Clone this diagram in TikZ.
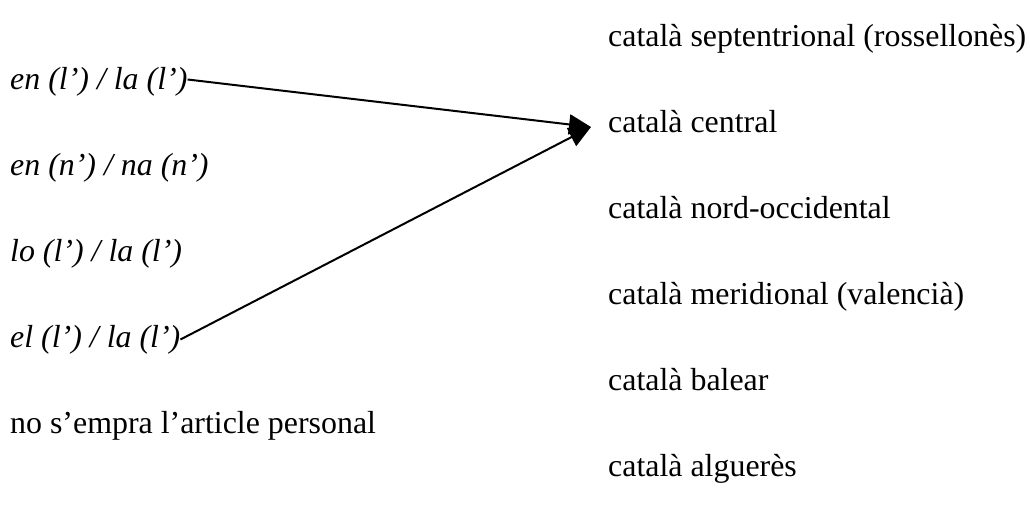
\documentclass[tikz,border=0pt]{standalone}
\usepackage{fontspec}
\setmainfont{Liberation Serif}
\usetikzlibrary{arrows.meta}
\begin{document}
\begin{tikzpicture}[x=1pt, y=-1pt,
  lbl/.style={anchor=base west, inner sep=0pt, font=\fontsize{31.9}{38}\selectfont},
  form/.style={lbl, font=\fontsize{31.9}{38}\selectfont\itshape},
  link/.style={line width=2pt, -{Triangle[length=22pt,width=20pt]}}]
\useasboundingbox (0,0) rectangle (1030,518);
% article forms (left column)
\node[form] (enl)  at (10,89.5)  {en (l’) / la (l’)};
\node[form] (enn)  at (10,175.5) {en (n’) / na (n’)};
\node[form] (lol)  at (10,261.5) {lo (l’) / la (l’)};
\node[form] (ell)  at (10,347.5) {el (l’) / la (l’)};
\node[lbl]  (none) at (10,433.5) {no s’empra l’article personal};
% dialects (right column)
\node[lbl] (sept) at (608,46.5)  {català septentrional (rossellonès)};
\node[lbl] (cent) at (608,132.5) {català central};
\node[lbl] (nocc) at (608,218.5) {català nord-occidental};
\node[lbl] (meri) at (608,304.5) {català meridional (valencià)};
\node[lbl] (bale) at (608,390.5) {català balear};
\node[lbl] (algu) at (608,476.5) {català alguerès};
% links
\coordinate (tip) at (591,127);
\draw[link] ([yshift=10pt]enl.base east) -- (tip);
\draw[link] ([yshift=8pt]ell.base east) -- (tip);
\end{tikzpicture}
\end{document}
